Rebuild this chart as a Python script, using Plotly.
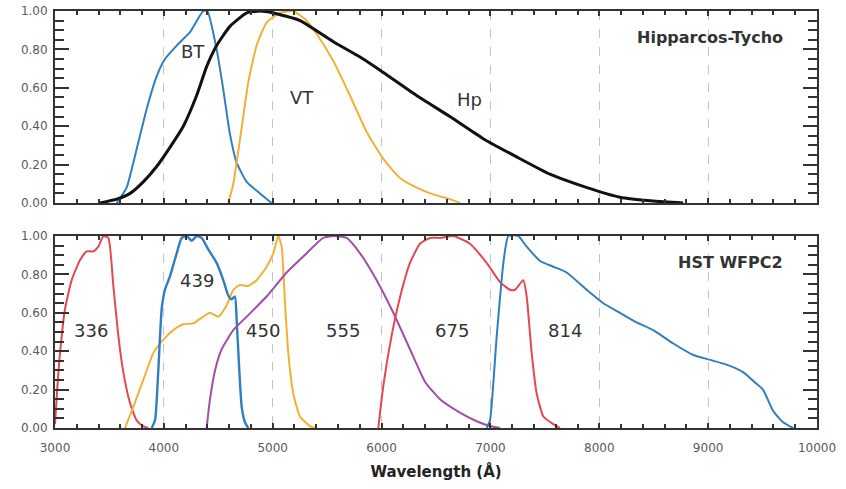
import plotly.graph_objects as go
from plotly.subplots import make_subplots

# ---------------- Data ----------------
bt_wl = [3567, 3658, 3750, 3842, 3934, 4010, 4118, 4240, 4362, 4400, 4485, 4546, 4607, 4669, 4761, 4883, 4990]
bt_val = [0.0, 0.08, 0.28, 0.49, 0.66, 0.75, 0.82, 0.89, 1.0, 1.0, 0.80, 0.59, 0.36, 0.21, 0.11, 0.05, 0.0]

hp_wl = [3413, 3567, 3690, 3811, 3934, 4056, 4179, 4301, 4393, 4485, 4607, 4761, 4883, 5005, 5251, 5557,
         5802, 6016, 6322, 6628, 6934, 7241, 7547, 7887, 8190, 8497, 8770]
hp_val = [0.0, 0.02, 0.05, 0.11, 0.19, 0.29, 0.40, 0.56, 0.71, 0.82, 0.92, 0.99, 1.0, 0.99, 0.95, 0.84,
          0.76, 0.68, 0.56, 0.45, 0.335, 0.24, 0.15, 0.08, 0.03, 0.01, 0.0]

vt_wl = [4592, 4638, 4699, 4776, 4852, 4944, 5067, 5187, 5311, 5404, 5557, 5710, 5863, 6016, 6169, 6322, 6475, 6628, 6720]
vt_val = [0.0, 0.10, 0.33, 0.63, 0.82, 0.94, 0.99, 1.0, 0.95, 0.88, 0.74, 0.56, 0.37, 0.23, 0.13, 0.08, 0.045, 0.02, 0.0]

f336_wl = [3000, 3020, 3046, 3092, 3153, 3230, 3291, 3352, 3398, 3444, 3490, 3536, 3582, 3628, 3689, 3750, 3811, 3857]
f336_val = [0.02, 0.2, 0.39, 0.62, 0.77, 0.875, 0.92, 0.92, 0.945, 1.0, 0.99, 0.74, 0.48, 0.29, 0.13, 0.04, 0.01, 0.0]

f439_wl = [3888, 3919, 3949, 3980, 4010, 4056, 4118, 4164, 4210, 4255, 4301, 4347, 4408, 4485, 4546, 4592,
           4622, 4653, 4669, 4693, 4715, 4745, 4776]
f439_val = [0.0, 0.04, 0.30, 0.62, 0.72, 0.79, 0.91, 0.99, 1.0, 0.975, 1.0, 0.99, 0.93, 0.86, 0.77, 0.69,
            0.67, 0.685, 0.56, 0.30, 0.11, 0.03, 0.0]

f450_wl = [3643, 3719, 3811, 3903, 3995, 4087, 4179, 4270, 4362, 4424, 4500, 4577, 4638, 4699, 4776, 4852,
           4944, 5005, 5051, 5082, 5113, 5143, 5189, 5250, 5342, 5388]
f450_val = [0.0, 0.11, 0.25, 0.39, 0.46, 0.51, 0.54, 0.545, 0.58, 0.60, 0.58, 0.64, 0.72, 0.745, 0.74, 0.77,
            0.84, 0.91, 1.0, 0.945, 0.65, 0.39, 0.18, 0.06, 0.01, 0.0]

f555_wl = [4393, 4424, 4470, 4531, 4638, 4761, 4944, 5128, 5311, 5464, 5556, 5679, 5802, 5955, 6108, 6261,
           6400, 6537, 6720, 6873, 6996, 7088]
f555_val = [0.0, 0.15, 0.30, 0.41, 0.51, 0.58, 0.685, 0.81, 0.91, 0.99, 1.0, 0.99, 0.91, 0.77, 0.60, 0.41,
            0.24, 0.15, 0.08, 0.035, 0.01, 0.0]

f675_wl = [5970, 6016, 6092, 6169, 6261, 6353, 6445, 6537, 6659, 6812, 6965, 7088, 7180, 7226, 7302, 7333,
           7379, 7425, 7486, 7578, 7639]
f675_val = [0.0, 0.22, 0.48, 0.68, 0.86, 0.96, 0.99, 0.99, 1.0, 0.96, 0.86, 0.76, 0.72, 0.72, 0.77, 0.685,
            0.39, 0.18, 0.06, 0.02, 0.0]

f814_wl = [6965, 6996, 7058, 7119, 7165, 7256, 7333, 7456, 7578, 7700, 7884, 8037, 8190, 8343, 8496, 8680,
           8864, 9017, 9170, 9323, 9445, 9504, 9596, 9688, 9782]
f814_val = [0.0, 0.04, 0.48, 0.86, 1.0, 1.0, 0.945, 0.87, 0.84, 0.81, 0.72, 0.65, 0.60, 0.55, 0.51, 0.44,
            0.38, 0.355, 0.33, 0.29, 0.23, 0.20, 0.09, 0.03, 0.0]

top_labels = ["BT", "VT", "Hp"]
top_label_x = [4268, 5269, 6812]
top_label_y = [0.79, 0.55, 0.54]
bot_labels = ["336", "439", "450", "555", "675", "814"]
bot_label_x = [3330, 4300, 4910, 5645, 6645, 7683]
bot_label_y = [0.51, 0.77, 0.51, 0.51, 0.51, 0.51]

x_ticks = [3000, 4000, 5000, 6000, 7000, 8000, 9000, 10000]
x_tick_text = ["3000", "4000", "5000", "6000", "7000", "8000", "9000", "10000"]
y_ticks = [0.0, 0.2, 0.4, 0.6, 0.8, 1.0]

BLUE = "#2f7fc0"
ORANGE = "#f2b134"
BLACK = "#111111"
RED = "#e24a4f"
PURPLE = "#a04fa6"

fig = make_subplots(rows=2, cols=1, vertical_spacing=0.0792, shared_xaxes=False)

def add(x, y, color, row, width=2.0):
    fig.add_trace(go.Scatter(x=x, y=y, mode="lines", line=dict(color=color, width=width, shape="spline", smoothing=0.5),
                             showlegend=False, hoverinfo="skip"), row=row, col=1)

add(bt_wl, bt_val, BLUE, 1)
add(vt_wl, vt_val, ORANGE, 1)
add(hp_wl, hp_val, BLACK, 1, 3.0)

add(f336_wl, f336_val, RED, 2)
add(f450_wl, f450_val, ORANGE, 2)
add(f439_wl, f439_val, BLUE, 2, 2.4)
add(f555_wl, f555_val, PURPLE, 2)
add(f675_wl, f675_val, RED, 2)
add(f814_wl, f814_val, BLUE, 2)

FONT = "DejaVu Sans, Arial, sans-serif"
TICKCOL = "#5a5a5a"

xcommon = dict(range=[3000, 10000], tickvals=x_ticks, ticktext=x_tick_text, showgrid=True, gridcolor="#c4c4c4",
               griddash="dash", gridwidth=1, showline=True, linecolor="#333333", linewidth=2, mirror="allticks",
               ticks="inside", ticklen=5, tickcolor="#333333", tickwidth=1.5, automargin=False,
               ticklabelstandoff=8,
               minor=dict(dtick=200, ticks="inside", ticklen=4, tickcolor="#333333", tickwidth=1.5, showgrid=False),
               zeroline=False, tickfont=dict(family=FONT, size=12, color=TICKCOL))
ycommon = dict(range=[0, 1.0], tickvals=y_ticks, tickformat=".2f", showgrid=False, showline=True,
               linecolor="#333333", linewidth=2, mirror="allticks", ticks="inside", ticklen=14,
               tickcolor="#333333", tickwidth=1.5, automargin=False, ticklabelstandoff=3,
               minor=dict(dtick=0.05, ticks="inside", ticklen=9, tickcolor="#333333", tickwidth=1.5, showgrid=False),
               zeroline=False, tickfont=dict(family=FONT, size=12, color=TICKCOL))

fig.update_xaxes(**xcommon)
fig.update_xaxes(showticklabels=False, row=1, col=1)
fig.update_xaxes(title=dict(text="<b>Wavelength (Å)</b>", font=dict(family=FONT, size=15, color="#222"), standoff=12),
                 row=2, col=1)
fig.update_yaxes(**ycommon)

fig.update_layout(
    width=846, height=489,
    margin=dict(l=55, r=29, t=11, b=61),
    paper_bgcolor="white", plot_bgcolor="white",
    font=dict(family=FONT),
)
fig.layout.yaxis.domain = [0.5396, 1.0]
fig.layout.yaxis2.domain = [0.0, 0.4604]

for t, x, y in zip(top_labels, top_label_x, top_label_y):
    fig.add_annotation(x=x, y=y, text=t, showarrow=False, xref="x", yref="y",
                       font=dict(family=FONT, size=18, color="#333333"))
for t, x, y in zip(bot_labels, bot_label_x, bot_label_y):
    fig.add_annotation(x=x, y=y, text=t, showarrow=False, xref="x2", yref="y2",
                       font=dict(family=FONT, size=18, color="#333333"))

fig.add_annotation(x=9706, y=0.86, text="<b>Hipparcos-Tycho</b>", showarrow=False, xref="x", yref="y",
                   xanchor="right", font=dict(family=FONT, size=16, color="#333333"))
fig.add_annotation(x=9706, y=0.86, text="<b>HST WFPC2</b>", showarrow=False, xref="x2", yref="y2",
                   xanchor="right", font=dict(family=FONT, size=16, color="#333333"))

# remove the browser's default 8px body margin so the figure fills the window exactly
fig.write_html("out.html", config={"displayModeBar": False},
               post_script="document.body.style.margin='0';document.body.style.overflow='hidden';")
